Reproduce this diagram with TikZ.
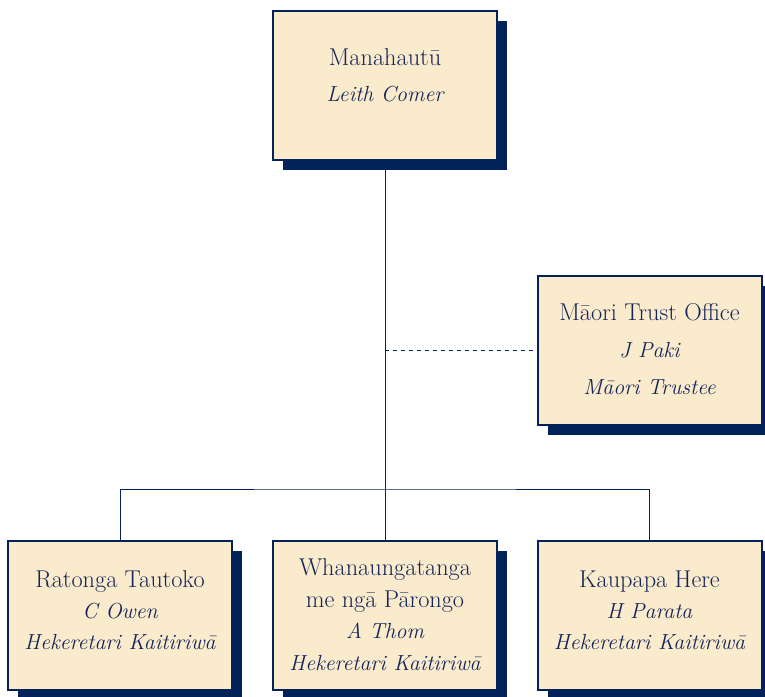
\documentclass[tikz,border=0pt]{standalone}
\usepackage{fontspec}
\usepackage{tikz}
\usetikzlibrary{shadows}
\definecolor{orgnavy}{HTML}{02235A}
\definecolor{orgfill}{HTML}{FBEBCD}
\definecolor{orgtext}{HTML}{14255A}
\newcommand{\orgrole}[1]{{\fontsize{21.8pt}{26pt}\selectfont\itshape #1}}
\tikzset{
  orgbox/.style={draw=orgnavy, line width=2pt, fill=orgfill, rectangle, minimum width=224pt, minimum height=149pt,
    drop shadow={shadow xshift=10pt, shadow yshift=-10pt, fill=orgnavy, opacity=1}},
  orgtxt/.style={text=orgtext, align=center, inner sep=0pt},
  orgline/.style={draw=orgnavy, line width=0.9pt}
}

\begin{document}
\begin{tikzpicture}[x=1pt, y=-1pt]%
\useasboundingbox (0,0) rectangle (765,696);%
\node[orgbox] (top) at (385,85.5) {};%
\node[orgtxt, font={\fontsize{24.3pt}{36pt}\selectfont}] (toptext) at (385,75) {Manahautū\\\orgrole{Leith Comer}};%
\node[orgbox] (trust) at (649.5,350.5) {};%
\node[orgtxt, font={\fontsize{24.3pt}{37pt}\selectfont}] (trusttext) at (649.5,349) {Māori Trust Office\\\orgrole{J Paki}\\\orgrole{Māori Trustee}};%
\node[orgbox] (support) at (120,615.5) {};%
\node[orgtxt, font={\fontsize{24.3pt}{31pt}\selectfont}] (supporttext) at (120,610) {Ratonga Tautoko\\\orgrole{C Owen}\\\orgrole{Hekeretari Kaitiriwā}};%
\node[orgbox] (relations) at (385,615.5) {};%
\node[orgtxt, font={\fontsize{24.3pt}{31.5pt}\selectfont}] (relationstext) at (385,614.5) {Whanaungatanga\\me ngā Pārongo\\\orgrole{A Thom}\\\orgrole{Hekeretari Kaitiriwā}};%
\node[orgbox] (policy) at (649.5,615.5) {};%
\node[orgtxt, font={\fontsize{24.3pt}{31pt}\selectfont}] (policytext) at (649.5,610) {Kaupapa Here\\\orgrole{H Parata}\\\orgrole{Hekeretari Kaitiriwā}};%
\coordinate (branch) at (top.south |- 0,489);%
\coordinate (tap) at (top.south |- trust.west);%
\draw[orgline] (top.south) -- (relations.north);%
\draw[orgline] (support.north) |- (branch) -| (policy.north);%
\draw[orgline, dash pattern=on 4pt off 4pt] (tap) -- (trust.west);%
\end{tikzpicture}
\end{document}
